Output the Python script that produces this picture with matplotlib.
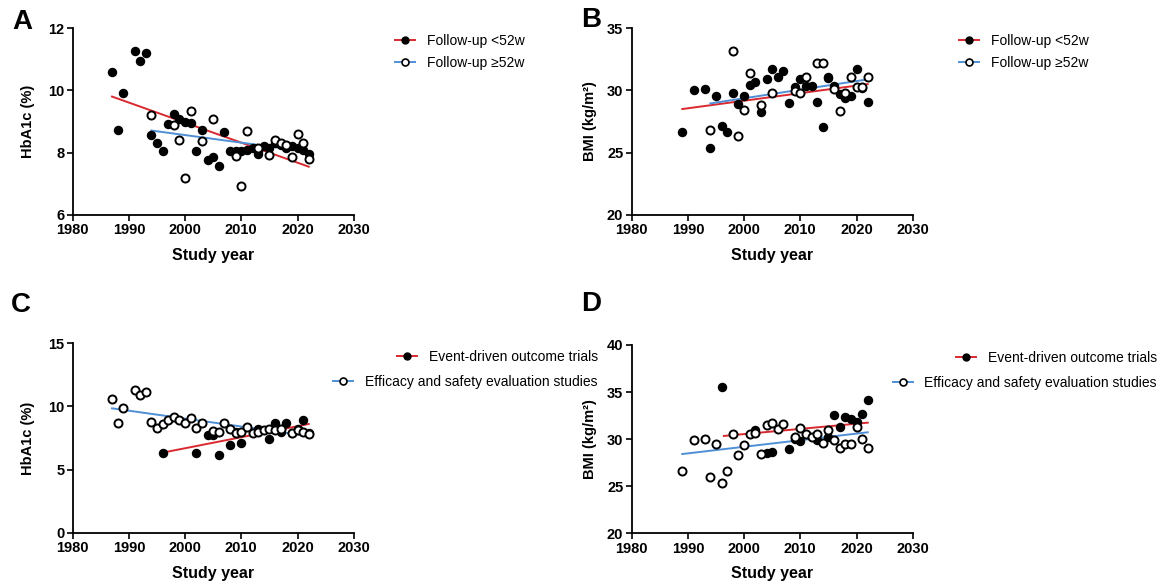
import matplotlib
matplotlib.use("Agg")
import matplotlib.pyplot as plt
from matplotlib.lines import Line2D

plt.rcParams['font.family'] = ['Liberation Sans', 'DejaVu Sans']

RED = "#d9292f"
BLUE = "#4f8fd6"

# ---- panel A: HbA1c by follow-up ----
a_short_year = [1987, 1988, 1989, 1991, 1992, 1993, 1994, 1995, 1996, 1997, 1998, 1999,
                2000, 2001, 2002, 2003, 2004, 2005, 2006, 2007, 2008, 2009, 2010, 2011,
                2012, 2013, 2013, 2014, 2015, 2016, 2017, 2018, 2018, 2019, 2020, 2021, 2022]
a_short_val = [10.6, 8.73, 9.93, 11.27, 10.95, 11.21, 8.56, 8.32, 8.05, 8.91, 9.24, 9.07,
               8.98, 8.96, 8.06, 8.73, 7.76, 7.87, 7.58, 8.65, 8.05, 8.05, 8.05, 8.1,
               8.15, 8.05, 7.95, 8.2, 8.15, 8.3, 8.25, 8.2, 8.15, 8.22, 8.15, 8.1, 7.95]
a_long_year = [1994, 1998, 1999, 2000, 2001, 2003, 2005, 2009, 2010, 2011, 2013, 2015,
               2016, 2017, 2018, 2019, 2020, 2021, 2022]
a_long_val = [9.21, 8.89, 8.41, 7.18, 9.35, 8.39, 9.08, 7.9, 6.92, 8.68, 8.15, 7.93,
              8.41, 8.32, 8.25, 7.85, 8.6, 8.3, 7.79]
a_fit_short = ([1987, 2022], [9.80, 7.55])
a_fit_long = ([1994, 2022], [8.71, 8.03])

# ---- panel B: BMI by follow-up ----
b_short_year = [1989, 1991, 1993, 1994, 1995, 1996, 1997, 1998, 1999, 2000, 2001, 2002,
                2003, 2004, 2005, 2006, 2007, 2008, 2009, 2010, 2011, 2012, 2013, 2014,
                2015, 2015, 2016, 2017, 2018, 2019, 2020, 2021, 2022]
b_short_val = [26.66, 30.0, 30.08, 25.4, 29.55, 27.14, 26.66, 29.81, 28.88, 29.57, 30.43, 30.7,
               28.29, 30.88, 31.71, 31.1, 31.58, 29.0, 30.24, 30.88, 30.35, 30.37, 29.09, 27.09,
               30.96, 31.05, 30.35, 29.7, 29.36, 29.57, 31.71, 30.16, 29.04]
b_long_year = [1994, 1998, 1999, 2000, 2001, 2003, 2005, 2009, 2010, 2011, 2013, 2014,
               2016, 2017, 2018, 2019, 2020, 2021, 2022]
b_long_val = [26.85, 33.16, 26.34, 28.42, 31.42, 28.82, 29.79, 29.97, 29.81, 31.04, 32.22, 32.22,
              30.08, 28.34, 29.76, 31.04, 30.24, 30.24, 31.1]
b_fit_short = ([1989, 2022], [28.5, 30.5])
b_fit_long = ([1994, 2022], [28.95, 30.88])

# ---- panel C: HbA1c by study type ----
c_event_year = [1996, 2002, 2004, 2005, 2006, 2008, 2009, 2010, 2013, 2015, 2016, 2017,
                2017, 2018, 2019, 2020, 2021, 2022]
c_event_val = [6.34, 6.34, 7.74, 7.74, 6.18, 6.92, 8.0, 7.08, 8.19, 7.4, 8.66, 8.0,
               8.19, 8.72, 7.92, 8.19, 8.93, 7.92]
c_eff_year = [1987, 1988, 1989, 1991, 1992, 1993, 1994, 1995, 1996, 1997, 1998, 1999,
              2000, 2001, 2002, 2003, 2005, 2006, 2007, 2008, 2009, 2010, 2011, 2012,
              2013, 2014, 2015, 2016, 2017, 2019, 2020, 2021, 2022]
c_eff_val = [10.56, 8.72, 9.85, 11.3, 10.9, 11.17, 8.79, 8.32, 8.58, 8.93, 9.19, 8.93,
             8.66, 9.06, 8.27, 8.66, 8.06, 8.0, 8.66, 8.19, 7.92, 8.0, 8.4, 7.92,
             8.0, 8.13, 8.19, 8.13, 8.19, 7.87, 8.13, 8.0, 7.82]
c_fit_event = ([1996, 2022], [6.34, 8.61])
c_fit_eff = ([1987, 2022], [9.85, 7.66])

# ---- panel D: BMI by study type ----
d_event_year = [1996, 2002, 2004, 2005, 2008, 2009, 2010, 2013, 2015, 2016, 2017, 2018,
                2019, 2020, 2021, 2022]
d_event_val = [35.58, 30.97, 28.5, 28.67, 28.92, 29.98, 29.84, 29.91, 30.19, 32.57, 31.26, 32.32,
               32.11, 31.86, 32.67, 34.16]
d_eff_year = [1989, 1991, 1993, 1994, 1995, 1996, 1997, 1998, 1999, 2000, 2001, 2002,
              2003, 2004, 2005, 2006, 2007, 2009, 2010, 2011, 2012, 2013, 2014, 2015,
              2016, 2017, 2018, 2019, 2020, 2021, 2022]
d_eff_val = [26.65, 29.91, 30.02, 25.95, 29.49, 25.31, 26.65, 30.55, 28.35, 29.38, 30.51, 30.62,
             28.42, 31.54, 31.75, 31.04, 31.58, 30.27, 31.15, 30.55, 30.27, 30.55, 29.56, 30.97,
             29.91, 29.03, 29.49, 29.49, 31.33, 29.98, 29.03]
d_fit_event = ([1996.4, 2022], [30.34, 31.75])
d_fit_eff = ([1989, 2022], [28.42, 30.73])

follow_labels = ["Follow-up <52w", "Follow-up \u226552w"]
type_labels = ["Event-driven outcome trials", "Efficacy and safety evaluation studies"]


def style_axis(ax, ylim, yticks, ylabel, ylab_x):
    ax.set_xlim(1980, 2030)
    ax.set_xticks(range(1980, 2031, 10))
    ax.set_ylim(*ylim)
    ax.set_yticks(yticks)
    for s in ["top", "right"]:
        ax.spines[s].set_visible(False)
    for s in ["left", "bottom"]:
        ax.spines[s].set_linewidth(1.3)
    ax.tick_params(direction="out", length=4, width=1.2, labelsize=10.5, pad=2)
    for lab in ax.get_xticklabels() + ax.get_yticklabels():
        lab.set_fontweight("bold")
    ax.set_ylabel(ylabel, fontsize=10.5, fontweight="bold")
    ax.yaxis.set_label_coords(ylab_x, 0.5)
    ax.set_xlabel("Study year", fontsize=11.5, fontweight="bold")
    ax.xaxis.set_label_coords(0.5, -0.215)
    ax.xaxis.label.set_va("center")


def draw(ax, filled, opened, fit_f, fit_o):
    ax.plot(fit_f[0], fit_f[1], color=RED, lw=1.4, zorder=2)
    ax.plot(fit_o[0], fit_o[1], color=BLUE, lw=1.4, zorder=2)
    ax.plot(filled[0], filled[1], "o", ms=5.8, mfc="black", mec="black", zorder=3)
    ax.plot(opened[0], opened[1], "o", ms=5.8, mfc="white", mec="black", mew=1.4, zorder=4)


h_filled = Line2D([], [], color=RED, lw=1.4, marker="o", ms=5, mfc="black", mec="black")
h_open = Line2D([], [], color=BLUE, lw=1.4, marker="o", ms=5, mfc="white", mec="black", mew=1.2)

fig = plt.figure(figsize=(11.74, 5.86), dpi=100)
W, H = 1174.0, 586.0

axA = fig.add_axes([72.7 / W, 1 - 215 / H, 281 / W, 187 / H])
axB = fig.add_axes([631.7 / W, 1 - 215 / H, 281 / W, 187 / H])
axC = fig.add_axes([72.7 / W, 1 - 532.7 / H, 281 / W, 189.4 / H])
axD = fig.add_axes([631.7 / W, 1 - 533.3 / H, 281 / W, 188.3 / H])

draw(axA, (a_short_year, a_short_val), (a_long_year, a_long_val), a_fit_short, a_fit_long)
draw(axB, (b_short_year, b_short_val), (b_long_year, b_long_val), b_fit_short, b_fit_long)
draw(axC, (c_event_year, c_event_val), (c_eff_year, c_eff_val), c_fit_event, c_fit_eff)
draw(axD, (d_event_year, d_event_val), (d_eff_year, d_eff_val), d_fit_event, d_fit_eff)

style_axis(axA, (6, 12), [6, 8, 10, 12], "HbA1c (%)", -0.134)
style_axis(axB, (20, 35), [20, 25, 30, 35], "BMI (kg/m\u00b2)", -0.123)
style_axis(axC, (0, 15), [0, 5, 10, 15], "HbA1c (%)", -0.134)
style_axis(axD, (20, 40), [20, 25, 30, 35, 40], "BMI (kg/m\u00b2)", -0.123)

leg_kw = dict(frameon=False, fontsize=10, handlelength=1.45, handletextpad=0.85,
              borderpad=0, borderaxespad=0, bbox_transform=fig.transFigure)

# top legends: left aligned block
fig.legend([h_filled, h_open], follow_labels, loc="center left",
           bbox_to_anchor=(395 / W, 1 - 52 / H), labelspacing=0.62, **leg_kw)
fig.legend([h_filled, h_open], follow_labels, loc="center left",
           bbox_to_anchor=(959 / W, 1 - 52 / H), labelspacing=0.62, **leg_kw)

# bottom legends: rows right aligned
for x_right, rows in [(597.7, (356.7, 381.7)), (1157, (357.7, 382.7))]:
    fig.legend([h_filled], [type_labels[0]], loc="center right",
               bbox_to_anchor=(x_right / W, 1 - rows[0] / H), **leg_kw)
    fig.legend([h_open], [type_labels[1]], loc="center right",
               bbox_to_anchor=(x_right / W, 1 - rows[1] / H), **leg_kw)

for letter, x, y in [("A", 22, 22), ("B", 591, 20), ("C", 21, 305), ("D", 591, 304)]:
    fig.text(x / W, 1 - y / H, letter, fontsize=20, fontweight="bold",
             ha="center", va="center")

fig.savefig("out.png", dpi=100)
